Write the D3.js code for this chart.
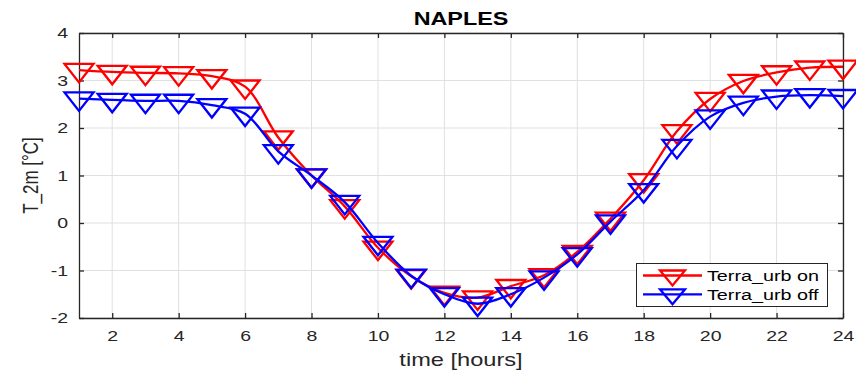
<!DOCTYPE html>
<html><head><meta charset="utf-8">
<script src="https://cdn.jsdelivr.net/npm/d3@7"></script>
<style>body{margin:0;background:#fff}svg{display:block}</style>
</head><body><svg id="c" width="856" height="373"></svg>
<script>
const hours = d3.range(1, 25);
const urbOn  = [3.22,3.18,3.16,3.15,3.09,2.87,1.80,1.00,0.35,-0.52,-1.12,-1.47,-1.57,-1.33,-1.10,-0.61,0.09,0.90,1.93,2.61,2.99,3.17,3.27,3.29];
const urbOff = [2.62,2.59,2.57,2.57,2.48,2.30,1.51,1.00,0.44,-0.42,-1.11,-1.50,-1.70,-1.50,-1.15,-0.66,0.03,0.69,1.62,2.24,2.53,2.66,2.69,2.67];
const seriesNames = ["Terra_urb on", "Terra_urb off"];
const seriesColors = ["#ff0000", "#0000ff"];
const xTicks = [2,4,6,8,10,12,14,16,18,20,22,24];
const yTicks = [-2,-1,0,1,2,3,4];

const svg = d3.select("#c");
const L = 79, R = 843, T = 33, B = 318;
const SX = 1.3; // horizontal text stretch seen in the reference
const x = d3.scaleLinear().domain([1, 24]).range([L, R]);
const y = d3.scaleLinear().domain([-2, 4]).range([B, T]);
const font = "'Liberation Sans', Arial, sans-serif";
const axisCol = "#262626";

// grid
svg.append("g").selectAll("line").data(xTicks).join("line")
  .attr("x1", d => x(d)).attr("x2", d => x(d)).attr("y1", T).attr("y2", B)
  .attr("stroke", "#e0e0e0").attr("stroke-width", 1);
svg.append("g").selectAll("line").data(yTicks).join("line")
  .attr("x1", L).attr("x2", R).attr("y1", d => y(d)).attr("y2", d => y(d))
  .attr("stroke", "#e0e0e0").attr("stroke-width", 1);

// axes
const fmt = d => String(d);
const xb = svg.append("g").attr("transform", `translate(0,${B})`)
  .call(d3.axisBottom(x).tickValues(xTicks).tickFormat(fmt).tickSizeInner(-5).tickSizeOuter(0).tickPadding(12));
const xt = svg.append("g").attr("transform", `translate(0,${T})`)
  .call(d3.axisTop(x).tickValues(xTicks).tickSizeInner(-5).tickSizeOuter(0).tickFormat(""));
const yl = svg.append("g").attr("transform", `translate(${L},0)`)
  .call(d3.axisLeft(y).tickValues(yTicks).tickFormat(fmt).tickSizeInner(-5).tickSizeOuter(0).tickPadding(11));
const yr = svg.append("g").attr("transform", `translate(${R},0)`)
  .call(d3.axisRight(y).tickValues(yTicks).tickSizeInner(-5).tickSizeOuter(0).tickFormat(""));
[xb, xt, yl, yr].forEach(g => {
  g.select(".domain").attr("stroke", axisCol).attr("stroke-width", 1.3);
  g.selectAll(".tick line").attr("stroke", axisCol).attr("stroke-width", 1.3);
  g.selectAll(".tick text").attr("fill", axisCol).attr("font-size", 15).attr("font-family", font)
    .attr("transform", `scale(${SX},1)`);
});
xb.selectAll(".tick text").attr("dy", "0.71em");
yl.selectAll(".tick text").attr("x", -11 / SX);

const series = [urbOn, urbOff];
function tri(h, hw) {
  return `M${-hw},${-h/3}L${hw},${-h/3}L0,${2*h/3}Z`;
}
series.forEach((vals, i) => {
  const pts = hours.map((h, j) => [h, vals[j]]);
  svg.append("path").datum(pts)
    .attr("d", d3.line().x(d => x(d[0])).y(d => y(d[1])).curve(d3.curveCatmullRom.alpha(0.5)))
    .attr("fill", "none").attr("stroke", seriesColors[i]).attr("stroke-width", 2.3);
  svg.append("g").selectAll("path").data(pts).join("path")
    .attr("transform", d => `translate(${x(d[0])},${y(d[1])})`)
    .attr("d", tri(18.5, 14.5))
    .attr("fill", "none").attr("stroke", seriesColors[i]).attr("stroke-width", 2.3)
    .attr("stroke-linejoin", "miter");
});

// labels
svg.append("text").attr("transform", `translate(${(L + R) / 2},25) scale(1.23,1)`).attr("text-anchor", "middle")
  .attr("font-family", font).attr("font-weight", "bold").attr("font-size", 19).attr("fill", "#000").text("NAPLES");
svg.append("text").attr("transform", `translate(${(L + R) / 2},366) scale(${SX + 0.05},1)`).attr("text-anchor", "middle")
  .attr("font-family", font).attr("font-size", 17.5).attr("fill", axisCol).text("time [hours]");
svg.append("text").attr("transform", `translate(38,${(T + B) / 2}) scale(${SX},1) rotate(-90)`).attr("text-anchor", "middle")
  .attr("font-family", font).attr("font-size", 17).attr("fill", axisCol).text("T_2m [°C]");

// legend
const lg = svg.append("g");
lg.append("rect").attr("x", 636.5).attr("y", 263.5).attr("width", 191).attr("height", 43)
  .attr("fill", "#fff").attr("stroke", axisCol).attr("stroke-width", 1);
seriesNames.forEach((n, i) => {
  const ly = 275.5 + i * 18.8;
  lg.append("line").attr("x1", 643).attr("x2", 702).attr("y1", ly).attr("y2", ly)
    .attr("stroke", seriesColors[i]).attr("stroke-width", 2.3);
  lg.append("path").attr("transform", `translate(672.5,${ly})`).attr("d", tri(15, 12.5))
    .attr("fill", "none").attr("stroke", seriesColors[i]).attr("stroke-width", 2.3);
  lg.append("text").attr("transform", `translate(707,${ly}) scale(${SX},1)`).attr("dy", "0.36em")
    .attr("font-family", font).attr("font-size", 15.2).attr("fill", "#000").text(n);
});
</script></body></html>
